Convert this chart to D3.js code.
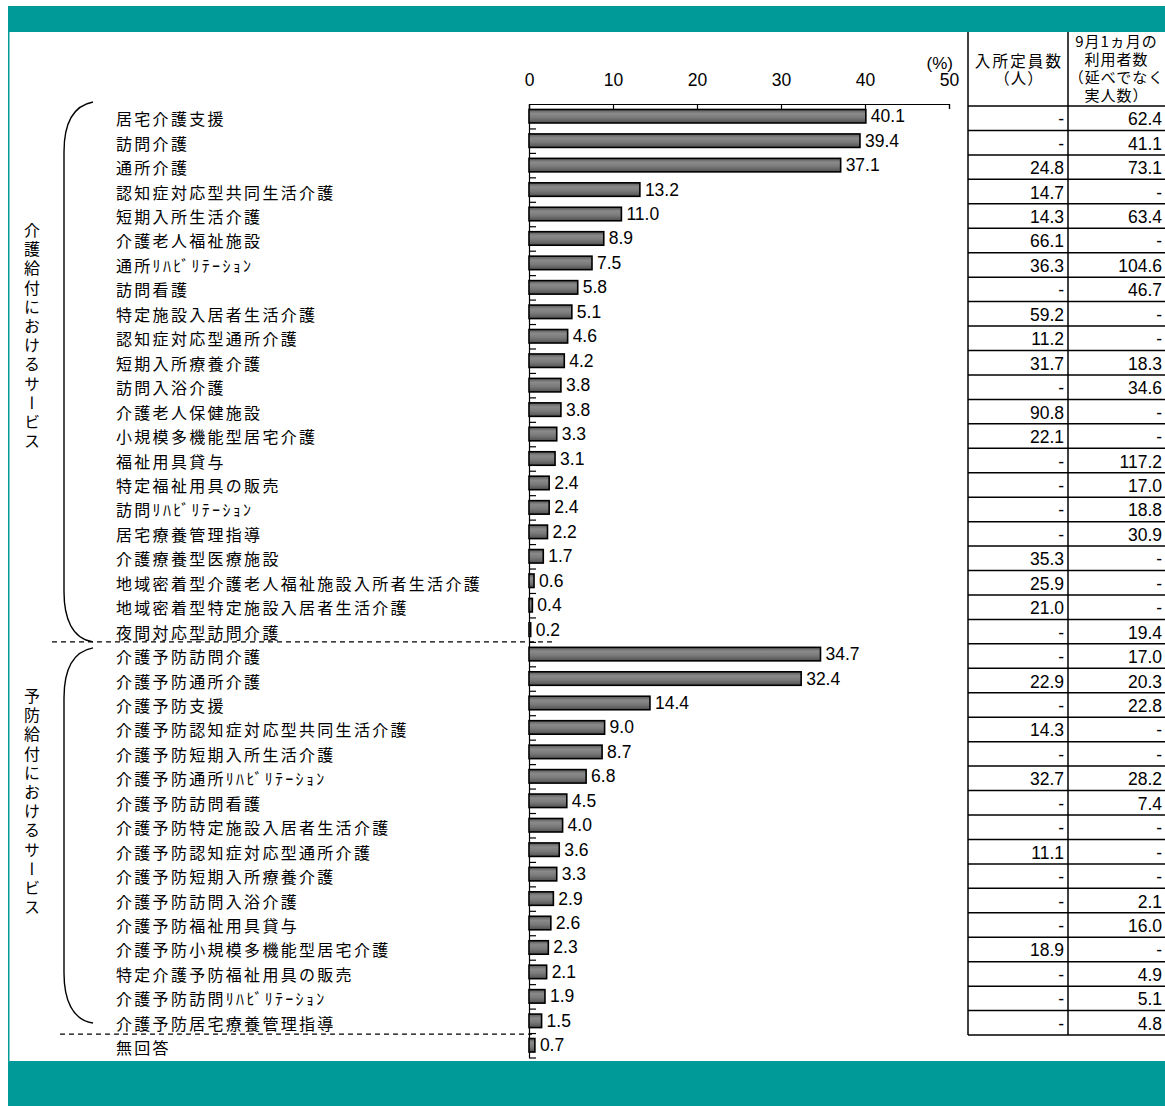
<!DOCTYPE html>
<html>
<head>
<meta charset="utf-8">
<script src="https://cdn.jsdelivr.net/npm/d3@7"></script>
<style>
  body { margin: 0; background: #fff; }
  svg { display: block; }
  .jp { font-family: "Noto Sans CJK JP", sans-serif; }
  .num { font-family: "Liberation Sans", Arial, sans-serif; }
</style>
</head>
<body>
<div id="vis"></div>
<script>
// categories (top to bottom)
const categories = [
  "居宅介護支援", "訪問介護", "通所介護", "認知症対応型共同生活介護", "短期入所生活介護",
  "介護老人福祉施設", "通所ﾘﾊﾋﾞﾘﾃｰｼｮﾝ", "訪問看護", "特定施設入居者生活介護", "認知症対応型通所介護",
  "短期入所療養介護", "訪問入浴介護", "介護老人保健施設", "小規模多機能型居宅介護", "福祉用具貸与",
  "特定福祉用具の販売", "訪問ﾘﾊﾋﾞﾘﾃｰｼｮﾝ", "居宅療養管理指導", "介護療養型医療施設",
  "地域密着型介護老人福祉施設入所者生活介護", "地域密着型特定施設入居者生活介護", "夜間対応型訪問介護",
  "介護予防訪問介護", "介護予防通所介護", "介護予防支援", "介護予防認知症対応型共同生活介護",
  "介護予防短期入所生活介護", "介護予防通所ﾘﾊﾋﾞﾘﾃｰｼｮﾝ", "介護予防訪問看護", "介護予防特定施設入居者生活介護",
  "介護予防認知症対応型通所介護", "介護予防短期入所療養介護", "介護予防訪問入浴介護", "介護予防福祉用具貸与",
  "介護予防小規模多機能型居宅介護", "特定介護予防福祉用具の販売", "介護予防訪問ﾘﾊﾋﾞﾘﾃｰｼｮﾝ",
  "介護予防居宅療養管理指導", "無回答"
];

// share of respondents (%)
const rates = [
  40.1, 39.4, 37.1, 13.2, 11.0, 8.9, 7.5, 5.8, 5.1, 4.6, 4.2, 3.8, 3.8, 3.3, 3.1, 2.4, 2.4, 2.2, 1.7, 0.6, 0.4, 0.2,
  34.7, 32.4, 14.4, 9.0, 8.7, 6.8, 4.5, 4.0, 3.6, 3.3, 2.9, 2.6, 2.3, 2.1, 1.9, 1.5,
  0.7
];

// table columns (no row for 無回答)
const capacity = [
  "-", "-", "24.8", "14.7", "14.3", "66.1", "36.3", "-", "59.2", "11.2", "31.7", "-", "90.8", "22.1", "-", "-", "-", "-", "35.3", "25.9", "21.0", "-",
  "-", "22.9", "-", "14.3", "-", "32.7", "-", "-", "11.1", "-", "-", "-", "18.9", "-", "-", "-"
];
const users = [
  "62.4", "41.1", "73.1", "-", "63.4", "-", "104.6", "46.7", "-", "-", "18.3", "34.6", "-", "-", "117.2", "17.0", "18.8", "30.9", "-", "-", "-", "19.4",
  "17.0", "20.3", "22.8", "-", "-", "28.2", "7.4", "-", "-", "-", "2.1", "16.0", "-", "4.9", "5.1", "4.8"
];

const tickValues = [0, 10, 20, 30, 40, 50];
const groupNames = ["介護給付におけるサービス", "予防給付におけるサービス"];
const head1 = ["入所定員数", "（人）"];
const head2 = ["9月1ヵ月の", "利用者数", "（延べでなく", "実人数）"];

const W = 1165, H = 1106;
const teal = "#009a98";

const svg = d3.select("#vis").append("svg")
  .attr("width", W).attr("height", H);

// frame
svg.append("rect").attr("x", 8).attr("y", 6).attr("width", W - 8).attr("height", 26).attr("fill", teal);
svg.append("rect").attr("x", 8).attr("y", 1061).attr("width", W - 8).attr("height", H - 1061).attr("fill", teal);
svg.append("rect").attr("x", 8).attr("y", 30).attr("width", 1.5).attr("height", 1033).attr("fill", teal);

// gradient for bars
const grad = svg.append("defs").append("linearGradient")
  .attr("id", "barGrad").attr("x1", 0).attr("x2", 0).attr("y1", 0).attr("y2", 1);
[[0, "#5a5a5a"], [0.3, "#8a8a8a"], [0.6, "#7a7a7a"], [1, "#505050"]].forEach(s =>
  grad.append("stop").attr("offset", s[0]).attr("stop-color", s[1]));

let x = d3.scaleLinear().domain([0, 50]).range([529, 949]);
let row = d3.scaleLinear().domain([0, categories.length]).range([104, 1057.5]);
const step = row(1) - row(0);
const barH = 13.5;
const numSize = 17.5;

// top axis
let xAxis = d3.axisTop(x)
  .tickValues(tickValues)
  .tickSizeInner(-5)
  .tickSizeOuter(-5)
  .tickPadding(18);

let gx = svg.append("g")
  .attr("transform", "translate(0,104)")
  .call(xAxis);
gx.selectAll("path, line").attr("stroke", "#000").attr("stroke-width", 1.2);
gx.selectAll("text").attr("class", "num").attr("font-size", numSize).attr("fill", "#000");

svg.append("text").attr("class", "num")
  .attr("x", 953).attr("y", 63).attr("text-anchor", "end")
  .attr("dominant-baseline", "central")
  .attr("font-size", 17).text("(%)");

// left axis with row ticks
let yAxis = d3.axisRight(row)
  .tickValues(d3.range(1, categories.length + 1))
  .tickSize(7)
  .tickSizeOuter(0)
  .tickFormat("");
let gy = svg.append("g")
  .attr("transform", "translate(529,0)")
  .call(yAxis);
gy.selectAll("path, line").attr("stroke", "#000").attr("stroke-width", 1.2);

// bars
svg.selectAll("rect.bar")
  .data(rates)
  .enter()
  .append("rect")
  .attr("class", "bar")
  .attr("x", x(0))
  .attr("y", (d, i) => row(i) + (step - barH) / 2)
  .attr("width", d => Math.max(x(d) - x(0), 1.5))
  .attr("height", barH)
  .attr("fill", "url(#barGrad)")
  .attr("stroke", "#000")
  .attr("stroke-width", 1.6);

svg.selectAll("text.valueLabel")
  .data(rates)
  .enter()
  .append("text")
  .attr("class", "valueLabel num")
  .attr("x", d => x(d) + 5)
  .attr("y", (d, i) => row(i) + step / 2)
  .attr("dominant-baseline", "central")
  .attr("font-size", numSize)
  .text(d => d3.format(".1f")(d));

// category labels
svg.selectAll("text.label")
  .data(categories)
  .enter()
  .append("text")
  .attr("class", "label jp")
  .attr("x", 116)
  .attr("y", (d, i) => row(i) + step / 2 + 2)
  .attr("dominant-baseline", "central")
  .attr("font-size", 16)
  .attr("letter-spacing", 2.3)
  .text(d => d);

// dashed separators
svg.append("line")
  .attr("x1", 52).attr("x2", 556)
  .attr("y1", row(22)).attr("y2", row(22))
  .attr("stroke", "#000").attr("stroke-width", 1.3).attr("stroke-dasharray", "5,4");
svg.append("line")
  .attr("x1", 60).attr("x2", 532)
  .attr("y1", row(38) + 1).attr("y2", row(38) + 1)
  .attr("stroke", "#000").attr("stroke-width", 1.3).attr("stroke-dasharray", "5,4");

// brackets
function bracket(y0, y1) {
  return `M93,${y0} C72,${y0 + 4} 64,${y0 + 24} 64,${y0 + 50} V${y1 - 50} C64,${y1 - 24} 72,${y1 - 3} 93,${y1}`;
}
svg.append("path").attr("d", bracket(row(0) - 2, row(22)))
  .attr("fill", "none").attr("stroke", "#000").attr("stroke-width", 1.4);
svg.append("path").attr("d", bracket(row(22) + 6, row(38) - 10))
  .attr("fill", "none").attr("stroke", "#000").attr("stroke-width", 1.4);

// vertical group labels
const groupTop = [222, 688];
groupNames.forEach((g, i) => {
  svg.append("text")
    .attr("class", "jp")
    .attr("x", 32)
    .attr("y", groupTop[i])
    .attr("font-size", 16)
    .attr("letter-spacing", 3.2)
    .style("writing-mode", "vertical-rl")
    .text(g);
});

// table
const tx0 = 968, tx1 = 1068, tx2 = 1165;
const tRow = i => row(i) + 2;
const tbl = svg.append("g").attr("stroke", "#000").attr("stroke-width", 1.5);
[tx0, tx1].forEach(xx =>
  tbl.append("line").attr("x1", xx).attr("x2", xx).attr("y1", 32).attr("y2", tRow(capacity.length)));
d3.range(0, capacity.length + 1).forEach(i =>
  tbl.append("line").attr("x1", tx0).attr("x2", tx2).attr("y1", tRow(i)).attr("y2", tRow(i)));

svg.selectAll("text.cap")
  .data(capacity)
  .enter()
  .append("text")
  .attr("class", "cap num")
  .attr("x", tx1 - 4)
  .attr("y", (d, i) => tRow(i) + step / 2 + 1)
  .attr("text-anchor", "end")
  .attr("dominant-baseline", "central")
  .attr("font-size", numSize)
  .text(d => d);

svg.selectAll("text.users")
  .data(users)
  .enter()
  .append("text")
  .attr("class", "users num")
  .attr("x", tx2 - 3)
  .attr("y", (d, i) => tRow(i) + step / 2 + 1)
  .attr("text-anchor", "end")
  .attr("dominant-baseline", "central")
  .attr("font-size", numSize)
  .text(d => d);

// table headers (one text per column, lines as tspans)
let h1 = svg.append("text").attr("class", "jp")
  .attr("text-anchor", "middle").attr("font-size", 15.5);
head1.forEach((t, i) => {
  h1.append("tspan")
    .attr("x", (tx0 + tx1) / 2 + 1).attr("y", [67, 84][i])
    .attr("letter-spacing", i == 0 ? 2.2 : 1)
    .text(t);
});
let h2 = svg.append("text").attr("class", "jp")
  .attr("text-anchor", "middle").attr("font-size", 15);
head2.forEach((t, i) => {
  h2.append("tspan")
    .attr("x", (tx1 + tx2) / 2).attr("y", [46.5, 65, 83, 101][i])
    .attr("letter-spacing", 1)
    .text(t);
});
</script>
</body>
</html>
